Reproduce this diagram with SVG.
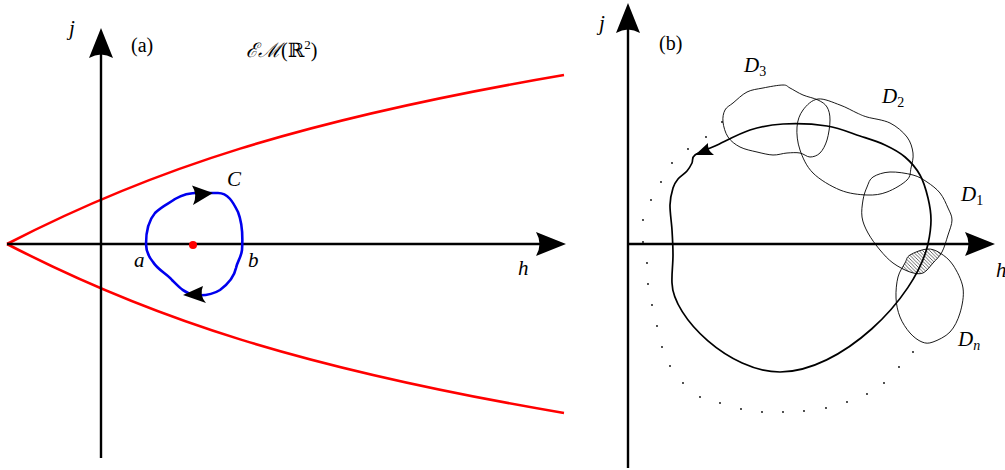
<svg xmlns="http://www.w3.org/2000/svg" width="1005" height="470" viewBox="0 0 1005 470">
<style>
.axis{stroke:#000;stroke-width:2.4;fill:none;marker-end:url(#axArrow)}
.red{stroke:#ff0000;stroke-width:2.6;fill:none}
.blue{stroke:#0000ee;stroke-width:2.6;fill:none}
.thick{stroke:#000;stroke-width:1.7;fill:none}
.blob{stroke:#000;stroke-width:0.9;fill:none}
.head{fill:#000;stroke:none}
.dot{fill:#000}
.m{font-family:"Liberation Serif","DejaVu Serif",serif;font-style:italic;font-size:21px;fill:#000}
.t{font-family:"Liberation Serif","DejaVu Serif",serif;font-size:20px;fill:#000}
.sub{font-family:"Liberation Serif","DejaVu Serif",serif;font-size:14px;font-style:normal}
.subi{font-family:"Liberation Serif","DejaVu Serif",serif;font-size:14px;font-style:italic}
</style>
<defs>
<marker id="axArrow" markerUnits="userSpaceOnUse" viewBox="0 0 30 24" markerWidth="30" markerHeight="24" refX="6" refY="12" orient="auto">
<path d="M0,0 L30,12 L0,24 Q7,12 0,0 Z" fill="#000"/>
</marker>
<pattern id="hatch" patternUnits="userSpaceOnUse" width="3.5" height="3.5">
<path d="M-1,-1 L4.5,4.5 M-1,2.5 L1,4.5 M2.5,-1 L4.5,1" stroke="#000" stroke-width="0.6"/>
</pattern>
<path id="d1path" d="M873,177 C876.8,174.5 883.3,172.3 890,172 C896.7,171.7 906.8,173.3 913,175 C919.2,176.7 922.5,179 927,182 C931.5,185 936.5,188.7 940,193 C943.5,197.3 946,203.5 948,208 C950,212.5 952,215.5 952,220 C952,224.5 949.7,229.7 948,235 C946.3,240.3 944.5,247.3 942,252 C939.5,256.7 936.2,259.5 933,263 C929.8,266.5 926.8,271.5 923,273 C919.2,274.5 915,273.7 910,272 C905,270.3 898,266.7 893,263 C888,259.3 884.2,255 880,250 C875.8,245 871,238.5 868,233 C865,227.5 862.8,222.5 862,217 C861.2,211.5 862.2,205 863,200 C863.8,195 865.3,190.8 867,187 C868.7,183.2 869.2,179.5 873,177 Z"/>
<path id="dnpath" d="M910,255 C913.7,252.7 922,249.3 927,249 C932,248.7 935.7,250.3 940,253 C944.3,255.7 949.2,259.2 953,265 C956.8,270.8 961.8,280 963,288 C964.2,296 962.2,305.7 960,313 C957.8,320.3 954.5,327.2 950,332 C945.5,336.8 937.7,340.3 933,342 C928.3,343.7 925.8,343.5 922,342 C918.2,340.5 913.7,337.2 910,333 C906.3,328.8 902.3,322.8 900,317 C897.7,311.2 896.3,304.7 896,298 C895.7,291.3 896.5,282.8 898,277 C899.5,271.2 903,266.7 905,263 C907,259.3 906.3,257.3 910,255 Z"/>
<clipPath id="clipD1"><use href="#d1path"/></clipPath>
</defs>
<rect width="1005" height="470" fill="#fff"/>

<!-- Panel (a) -->
<g id="panel-a">
<g id="a-region">
<path class="red" d="M7,244 C150,170 300,120 564,75"/>
<path class="red" d="M7,244 C150,318 300,368 564,413"/>
</g>
<g id="a-axes">
<line class="axis" x1="101" y1="458" x2="101" y2="52"/>
<line class="axis" x1="7" y1="244" x2="542" y2="244"/>
</g>
<g id="a-curve-C">
<path class="blue" d="M146,244 C146,232 149,220 155,213 C162,206 168,204 175,199 C185,193 195,192 205,193 L218,193 C228,193 233,202 238,212 C242,222 243,235 242,250 C241,258 237,262 236,268 C234,278 228,284 220,290 C212,295 205,296 195,295 C185,294 178,286 172,280 C166,273 158,270 153,262 C148,256 146,250 146,244 Z"/>
<path class="head" d="M213,193 L192,185.5 Q198,195 193,205 Z"/>
<path class="head" d="M183,295 L203,286 Q199,295 206,303 Z"/>
</g>
<g id="a-point">
<circle cx="193" cy="245" r="4" fill="#ff0000"/>
</g>
<g id="a-labels">
<text class="m" x="69" y="35">j</text>
<text class="t" x="131" y="52">(a)</text>
<text class="t" x="246" y="57"><tspan font-style="italic">ℰℳ</tspan>(ℝ<tspan font-size="13" dy="-8">2</tspan><tspan dy="8">)</tspan></text>
<text class="m" x="227" y="186">C</text>
<text class="m" x="134" y="267">a</text>
<text class="m" x="248" y="267">b</text>
<text class="m" x="518" y="275">h</text>
</g>
</g>

<!-- Panel (b) -->
<g id="panel-b">
<g id="b-dots">
<circle class="dot" cx="722" cy="122" r="0.9"/>
<circle class="dot" cx="706" cy="137" r="0.9"/>
<circle class="dot" cx="688" cy="149" r="0.9"/>
<circle class="dot" cx="672" cy="163" r="0.9"/>
<circle class="dot" cx="661" cy="182" r="0.9"/>
<circle class="dot" cx="651" cy="200" r="0.9"/>
<circle class="dot" cx="643" cy="220" r="0.9"/>
<circle class="dot" cx="643" cy="242" r="0.9"/>
<circle class="dot" cx="647" cy="263" r="0.9"/>
<circle class="dot" cx="648" cy="284" r="0.9"/>
<circle class="dot" cx="652" cy="305" r="0.9"/>
<circle class="dot" cx="657" cy="326" r="0.9"/>
<circle class="dot" cx="662" cy="347" r="0.9"/>
<circle class="dot" cx="670" cy="366" r="0.9"/>
<circle class="dot" cx="683" cy="383" r="0.9"/>
<circle class="dot" cx="700" cy="397" r="0.9"/>
<circle class="dot" cx="720" cy="403" r="0.9"/>
<circle class="dot" cx="741" cy="409" r="0.9"/>
<circle class="dot" cx="762" cy="412" r="0.9"/>
<circle class="dot" cx="783" cy="412" r="0.9"/>
<circle class="dot" cx="804" cy="411" r="0.9"/>
<circle class="dot" cx="826" cy="408" r="0.9"/>
<circle class="dot" cx="847" cy="402" r="0.9"/>
<circle class="dot" cx="867" cy="394" r="0.9"/>
<circle class="dot" cx="884" cy="383" r="0.9"/>
<circle class="dot" cx="899" cy="367" r="0.9"/>
<circle class="dot" cx="913" cy="352" r="0.9"/>
</g>
<g id="b-hatch">
<use href="#dnpath" fill="url(#hatch)" stroke="none" clip-path="url(#clipD1)"/>
</g>
<g id="b-D3">
<path class="blob" d="M723,122 C722.5,117.5 723.3,113.2 725,110 C726.7,106.8 729.3,106 733,103 C736.7,100 742,94.5 747,92 C752,89.5 757,89.2 763,88 C769,86.8 778.5,85 783,85 C787.5,85 786.7,86.3 790,88 C793.3,89.7 798.3,93 803,95 C807.7,97 814,98 818,100 C822,102 825,103.7 827,107 C829,110.3 830,114.5 830,120 C830,125.5 828.7,134.5 827,140 C825.3,145.5 822.8,150.2 820,153 C817.2,155.8 813.3,157 810,157 C806.7,157 803.8,153.7 800,153 C796.2,152.3 791.5,152.7 787,153 C782.5,153.3 778,155.2 773,155 C768,154.8 762.5,153.3 757,152 C751.5,150.7 744.8,149.5 740,147 C735.2,144.5 730.8,141.2 728,137 C725.2,132.8 723.5,126.5 723,122 Z"/>
</g>
<g id="b-D2">
<path class="blob" d="M818,99 C824.2,98.2 833.5,102.7 840,105 C846.5,107.3 852.5,111 857,113 C861.5,115 861.5,115.3 867,117 C872.5,118.7 883.3,119.7 890,123 C896.7,126.3 903.2,132 907,137 C910.8,142 912.3,147.8 913,153 C913.7,158.2 912,163.5 911,168 C910,172.5 911,176 907,180 C903,184 893.7,189.5 887,192 C880.3,194.5 874.8,195.3 867,195 C859.2,194.7 849,193.7 840,190 C831,186.3 819.7,179.7 813,173 C806.3,166.3 802.7,157.7 800,150 C797.3,142.3 796.5,133.7 797,127 C797.5,120.3 799.5,114.7 803,110 C806.5,105.3 811.8,99.8 818,99 Z"/>
</g>
<g id="b-D1">
<use href="#d1path" class="blob"/>
</g>
<g id="b-Dn">
<use href="#dnpath" class="blob"/>
</g>
<g id="b-axes">
<line class="axis" x1="628" y1="468" x2="628" y2="27"/>
<line class="axis" x1="628" y1="244" x2="971" y2="244"/>
</g>
<g id="b-loop">
<path class="thick" d="M695,155 C691.2,157.8 693.3,160.3 692,163 C690.7,165.7 689.3,168.3 687,171 C684.7,173.7 680.3,176.2 678,179 C675.7,181.8 674.3,183.7 673,188 C671.7,192.3 670.2,198 670,205 C669.8,212 671.5,221.7 672,230 C672.5,238.3 673,246.2 673,255 C673,265 671.5,274 672,283 C673,318 730,372 780,372 C840,372 915,300 928,244 C929.7,236.2 931,227.7 931,220 C931,212.3 929.8,205.5 928,198 C926.2,190.5 923.8,181.8 920,175 C916.2,168.2 910.8,162 905,157 C899.2,152 892.5,148.5 885,145 C877.5,141.5 869.7,139.2 860,136 C850.3,132.8 839.8,128 827,126 C814.2,124 795.8,123.3 783,124 C770.2,124.7 761.3,126.3 750,130 C738.7,133.7 724.2,141.8 715,146 C705.8,150.2 698.8,152.2 695,155 Z"/>
<path class="head" d="M695,155 L708,143 Q707,150 714,155 Z"/>
</g>
<g id="b-labels">
<text class="m" x="599" y="30">j</text>
<text class="t" x="659" y="50">(b)</text>
<text class="m" x="744" y="72">D<tspan class="sub" dy="4">3</tspan></text>
<text class="m" x="882" y="103">D<tspan class="sub" dy="4">2</tspan></text>
<text class="m" x="961" y="201">D<tspan class="sub" dy="4">1</tspan></text>
<text class="m" x="958" y="346">D<tspan class="subi" dy="4">n</tspan></text>
<text class="m" x="996" y="277">h</text>
</g>
</g>
</svg>
